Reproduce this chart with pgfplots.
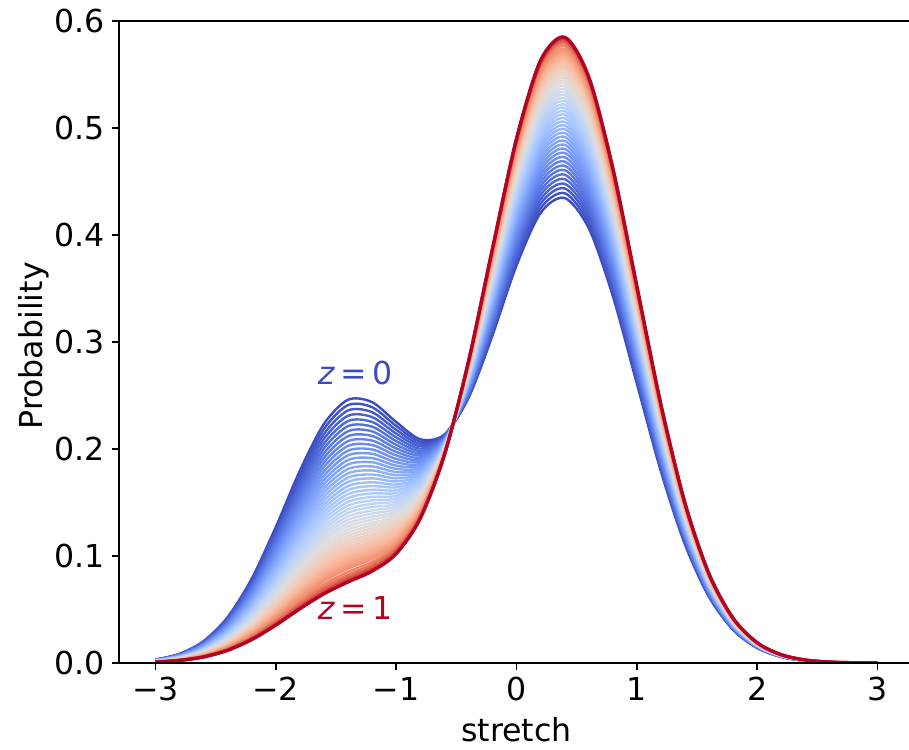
\documentclass[border=0pt]{standalone}
\usepackage{fontspec}
\setmainfont{DejaVu Sans}
\usepackage{pgfplots}
\usepackage{pgfplotstable}
\pgfplotsset{compat=1.18}
\pgfplotsset{colormap={coolwarm}{rgb255=(59,76,192) rgb255=(68,90,204) rgb255=(77,104,215) rgb255=(87,117,225) rgb255=(98,130,234) rgb255=(108,142,241) rgb255=(119,154,247) rgb255=(130,165,251) rgb255=(141,176,254) rgb255=(152,185,255) rgb255=(163,194,255) rgb255=(174,201,253) rgb255=(184,208,249) rgb255=(194,213,244) rgb255=(204,217,238) rgb255=(213,219,230) rgb255=(221,221,221) rgb255=(229,216,209) rgb255=(236,211,197) rgb255=(241,204,185) rgb255=(245,196,173) rgb255=(247,187,160) rgb255=(247,177,148) rgb255=(247,166,135) rgb255=(244,154,123) rgb255=(241,141,111) rgb255=(236,127,99) rgb255=(229,112,88) rgb255=(222,96,77) rgb255=(213,80,66) rgb255=(203,62,56) rgb255=(192,40,47) rgb255=(180,4,38)}}
\definecolor{cwblue}{RGB}{59,76,192}
\definecolor{cwred}{RGB}{180,4,38}

\pgfplotstableread{
x c0 c1 c2 c3 c4 c5 c6 c7 c8 c9 c10 c11 c12 c13 c14 c15 c16 c17 c18 c19 c20 c21 c22 c23 c24 c25 c26 c27 c28 c29 c30
-3.0 0.0031 0.0030 0.0029 0.0027 0.0026 0.0025 0.0024 0.0023 0.0022 0.0020 0.0019 0.0019 0.0018 0.0017 0.0016 0.0015 0.0014 0.0014 0.0013 0.0012 0.0012 0.0011 0.0011 0.0010 0.0010 0.0010 0.0009 0.0009 0.0009 0.0009 0.0009
-2.8 0.0085 0.0082 0.0078 0.0075 0.0071 0.0068 0.0065 0.0062 0.0059 0.0056 0.0053 0.0051 0.0048 0.0046 0.0043 0.0041 0.0039 0.0037 0.0035 0.0034 0.0032 0.0031 0.0029 0.0028 0.0027 0.0026 0.0025 0.0025 0.0024 0.0024 0.0024
-2.6 0.0204 0.0195 0.0187 0.0179 0.0171 0.0163 0.0155 0.0148 0.0141 0.0134 0.0128 0.0121 0.0115 0.0110 0.0104 0.0099 0.0094 0.0089 0.0085 0.0081 0.0077 0.0073 0.0070 0.0067 0.0065 0.0062 0.0060 0.0059 0.0058 0.0057 0.0056
-2.4 0.0428 0.0410 0.0392 0.0375 0.0358 0.0342 0.0326 0.0311 0.0296 0.0281 0.0268 0.0255 0.0242 0.0230 0.0218 0.0207 0.0197 0.0187 0.0178 0.0169 0.0161 0.0154 0.0147 0.0141 0.0136 0.0131 0.0127 0.0123 0.0121 0.0119 0.0118
-2.2 0.0787 0.0754 0.0721 0.0689 0.0658 0.0628 0.0599 0.0571 0.0544 0.0518 0.0493 0.0468 0.0445 0.0423 0.0402 0.0382 0.0363 0.0345 0.0328 0.0312 0.0297 0.0283 0.0271 0.0260 0.0250 0.0241 0.0233 0.0227 0.0223 0.0220 0.0218
-2.0 0.1269 0.1215 0.1162 0.1111 0.1061 0.1013 0.0966 0.0921 0.0877 0.0835 0.0795 0.0756 0.0718 0.0683 0.0649 0.0616 0.0586 0.0557 0.0529 0.0504 0.0480 0.0458 0.0438 0.0420 0.0404 0.0390 0.0378 0.0368 0.0360 0.0355 0.0353
-1.8 0.1795 0.1718 0.1644 0.1572 0.1502 0.1434 0.1368 0.1305 0.1243 0.1184 0.1127 0.1072 0.1020 0.0969 0.0921 0.0876 0.0832 0.0792 0.0753 0.0717 0.0684 0.0653 0.0625 0.0599 0.0577 0.0557 0.0540 0.0526 0.0515 0.0508 0.0506
-1.6 0.2233 0.2139 0.2048 0.1959 0.1873 0.1789 0.1708 0.1630 0.1554 0.1481 0.1411 0.1344 0.1279 0.1217 0.1158 0.1102 0.1049 0.0998 0.0951 0.0907 0.0866 0.0828 0.0793 0.0762 0.0734 0.0709 0.0688 0.0671 0.0658 0.0649 0.0646
-1.4 0.2460 0.2360 0.2261 0.2166 0.2073 0.1984 0.1897 0.1813 0.1732 0.1653 0.1578 0.1505 0.1436 0.1370 0.1306 0.1246 0.1189 0.1135 0.1084 0.1037 0.0993 0.0952 0.0915 0.0881 0.0851 0.0824 0.0802 0.0784 0.0770 0.0760 0.0757
-1.2 0.2438 0.2344 0.2253 0.2165 0.2079 0.1996 0.1915 0.1837 0.1762 0.1689 0.1619 0.1552 0.1488 0.1426 0.1367 0.1311 0.1259 0.1208 0.1161 0.1117 0.1076 0.1039 0.1004 0.0973 0.0945 0.0921 0.0900 0.0883 0.0870 0.0861 0.0858
-1.0 0.2253 0.2180 0.2109 0.2040 0.1973 0.1908 0.1845 0.1785 0.1726 0.1669 0.1615 0.1562 0.1512 0.1464 0.1418 0.1374 0.1333 0.1294 0.1257 0.1223 0.1191 0.1161 0.1134 0.1110 0.1088 0.1069 0.1053 0.1040 0.1030 0.1023 0.1020
-0.8 0.2091 0.2047 0.2004 0.1963 0.1922 0.1883 0.1845 0.1809 0.1774 0.1739 0.1707 0.1675 0.1645 0.1616 0.1589 0.1562 0.1538 0.1514 0.1492 0.1471 0.1452 0.1434 0.1418 0.1404 0.1390 0.1379 0.1369 0.1361 0.1355 0.1351 0.1350
-0.6 0.2134 0.2122 0.2111 0.2100 0.2090 0.2080 0.2070 0.2060 0.2051 0.2042 0.2034 0.2025 0.2017 0.2010 0.2003 0.1996 0.1989 0.1983 0.1977 0.1972 0.1967 0.1962 0.1958 0.1954 0.1951 0.1948 0.1945 0.1943 0.1942 0.1941 0.1940
-0.4 0.2474 0.2494 0.2514 0.2533 0.2551 0.2569 0.2587 0.2603 0.2619 0.2635 0.2650 0.2664 0.2678 0.2691 0.2704 0.2716 0.2727 0.2738 0.2748 0.2758 0.2766 0.2775 0.2782 0.2789 0.2795 0.2800 0.2804 0.2808 0.2811 0.2813 0.2813
-0.2 0.3060 0.3108 0.3155 0.3201 0.3245 0.3287 0.3329 0.3369 0.3407 0.3445 0.3481 0.3515 0.3548 0.3580 0.3610 0.3638 0.3666 0.3691 0.3716 0.3738 0.3759 0.3779 0.3796 0.3812 0.3827 0.3839 0.3850 0.3859 0.3865 0.3870 0.3871
0.0 0.3715 0.3785 0.3853 0.3920 0.3984 0.4046 0.4107 0.4165 0.4222 0.4277 0.4329 0.4379 0.4428 0.4474 0.4518 0.4560 0.4600 0.4637 0.4673 0.4706 0.4736 0.4765 0.4791 0.4814 0.4835 0.4853 0.4869 0.4882 0.4891 0.4898 0.4900
0.2 0.4206 0.4291 0.4373 0.4453 0.4530 0.4605 0.4678 0.4748 0.4816 0.4882 0.4945 0.5006 0.5064 0.5119 0.5172 0.5223 0.5271 0.5316 0.5358 0.5398 0.5435 0.5469 0.5500 0.5528 0.5554 0.5576 0.5594 0.5610 0.5621 0.5629 0.5632
0.4 0.4346 0.4435 0.4522 0.4606 0.4687 0.4767 0.4843 0.4917 0.4989 0.5058 0.5125 0.5188 0.5250 0.5308 0.5364 0.5417 0.5468 0.5515 0.5560 0.5602 0.5641 0.5677 0.5710 0.5739 0.5766 0.5789 0.5809 0.5825 0.5837 0.5846 0.5849
0.6 0.4064 0.4148 0.4229 0.4309 0.4385 0.4460 0.4532 0.4602 0.4669 0.4734 0.4797 0.4857 0.4914 0.4970 0.5022 0.5072 0.5120 0.5164 0.5206 0.5246 0.5282 0.5316 0.5347 0.5375 0.5400 0.5422 0.5441 0.5456 0.5467 0.5475 0.5478
0.8 0.3430 0.3501 0.3570 0.3636 0.3701 0.3764 0.3825 0.3884 0.3941 0.3996 0.4049 0.4100 0.4149 0.4195 0.4240 0.4282 0.4322 0.4360 0.4396 0.4429 0.4460 0.4489 0.4515 0.4538 0.4560 0.4578 0.4594 0.4607 0.4616 0.4623 0.4626
1.0 0.2609 0.2663 0.2716 0.2767 0.2816 0.2864 0.2910 0.2955 0.2999 0.3041 0.3081 0.3120 0.3157 0.3192 0.3226 0.3258 0.3289 0.3318 0.3345 0.3370 0.3394 0.3415 0.3435 0.3453 0.3469 0.3484 0.3495 0.3505 0.3513 0.3518 0.3520
1.2 0.1789 0.1826 0.1862 0.1897 0.1931 0.1964 0.1996 0.2027 0.2056 0.2085 0.2113 0.2139 0.2165 0.2189 0.2212 0.2234 0.2255 0.2275 0.2294 0.2311 0.2327 0.2342 0.2356 0.2368 0.2379 0.2389 0.2397 0.2404 0.2409 0.2412 0.2414
1.4 0.1106 0.1129 0.1151 0.1173 0.1194 0.1214 0.1234 0.1253 0.1271 0.1289 0.1306 0.1322 0.1338 0.1353 0.1367 0.1381 0.1394 0.1406 0.1418 0.1428 0.1438 0.1448 0.1456 0.1464 0.1471 0.1476 0.1482 0.1486 0.1489 0.1491 0.1492
1.6 0.0616 0.0629 0.0641 0.0653 0.0665 0.0676 0.0687 0.0698 0.0708 0.0718 0.0727 0.0736 0.0745 0.0753 0.0761 0.0769 0.0776 0.0783 0.0789 0.0795 0.0801 0.0806 0.0811 0.0815 0.0819 0.0822 0.0825 0.0827 0.0829 0.0830 0.0831
1.8 0.0309 0.0315 0.0322 0.0328 0.0334 0.0339 0.0345 0.0350 0.0355 0.0360 0.0365 0.0370 0.0374 0.0378 0.0382 0.0386 0.0390 0.0393 0.0396 0.0399 0.0402 0.0405 0.0407 0.0409 0.0411 0.0413 0.0414 0.0415 0.0416 0.0417 0.0417
2.0 0.0140 0.0143 0.0146 0.0148 0.0151 0.0153 0.0156 0.0158 0.0161 0.0163 0.0165 0.0167 0.0169 0.0171 0.0173 0.0175 0.0176 0.0178 0.0179 0.0181 0.0182 0.0183 0.0184 0.0185 0.0186 0.0187 0.0187 0.0188 0.0188 0.0189 0.0189
2.2 0.0057 0.0058 0.0059 0.0060 0.0062 0.0063 0.0064 0.0065 0.0066 0.0066 0.0067 0.0068 0.0069 0.0070 0.0070 0.0071 0.0072 0.0072 0.0073 0.0074 0.0074 0.0075 0.0075 0.0075 0.0076 0.0076 0.0076 0.0077 0.0077 0.0077 0.0077
2.4 0.0021 0.0021 0.0022 0.0022 0.0023 0.0023 0.0023 0.0024 0.0024 0.0024 0.0025 0.0025 0.0025 0.0026 0.0026 0.0026 0.0026 0.0027 0.0027 0.0027 0.0027 0.0027 0.0028 0.0028 0.0028 0.0028 0.0028 0.0028 0.0028 0.0028 0.0028
2.6 0.0007 0.0007 0.0007 0.0007 0.0008 0.0008 0.0008 0.0008 0.0008 0.0008 0.0008 0.0008 0.0008 0.0009 0.0009 0.0009 0.0009 0.0009 0.0009 0.0009 0.0009 0.0009 0.0009 0.0009 0.0009 0.0009 0.0009 0.0009 0.0009 0.0009 0.0009
2.8 0.0002 0.0002 0.0002 0.0002 0.0002 0.0002 0.0002 0.0002 0.0002 0.0002 0.0002 0.0003 0.0003 0.0003 0.0003 0.0003 0.0003 0.0003 0.0003 0.0003 0.0003 0.0003 0.0003 0.0003 0.0003 0.0003 0.0003 0.0003 0.0003 0.0003 0.0003
3.0 0.0001 0.0001 0.0001 0.0001 0.0001 0.0001 0.0001 0.0001 0.0001 0.0001 0.0001 0.0001 0.0001 0.0001 0.0001 0.0001 0.0001 0.0001 0.0001 0.0001 0.0001 0.0001 0.0001 0.0001 0.0001 0.0001 0.0001 0.0001 0.0001 0.0001 0.0001
}\curves

\pgfplotstableread{
x m0 m1 m2 m3 m4 m5 m6 m7 m8 m9 m10 m11 m12 m13 m14 m15 m16 m17 m18 m19 m20 m21 m22
-3.0 0.00305 0.00295 0.0028 0.00265 0.00255 0.00245 0.00235 0.00225 0.0021 0.00195 0.0019 0.00185 0.00175 0.00165 0.00155 0.00145 0.0014 0.00135 0.00125 0.0012 0.00115 0.0011 0.00105
-2.8 0.00835 0.0080 0.00765 0.0073 0.00695 0.00665 0.00635 0.00605 0.00575 0.00545 0.0052 0.00495 0.0047 0.00445 0.0042 0.0040 0.0038 0.0036 0.00345 0.0033 0.00315 0.0030 0.00285
-2.6 0.01995 0.0191 0.0183 0.0175 0.0167 0.0159 0.01515 0.01445 0.01375 0.0131 0.01245 0.0118 0.01125 0.0107 0.01015 0.00965 0.00915 0.0087 0.0083 0.0079 0.0075 0.00715 0.00685
-2.4 0.0419 0.0401 0.03835 0.03665 0.0350 0.0334 0.03185 0.03035 0.02885 0.02745 0.02615 0.02485 0.0236 0.0224 0.02125 0.0202 0.0192 0.01825 0.01735 0.0165 0.01575 0.01505 0.0144
-2.2 0.07705 0.07375 0.0705 0.06735 0.0643 0.06135 0.0585 0.05575 0.0531 0.05055 0.04805 0.04565 0.0434 0.04125 0.0392 0.03725 0.0354 0.03365 0.0320 0.03045 0.0290 0.0277 0.02655
-2.0 0.1242 0.11885 0.11365 0.1086 0.1037 0.09895 0.09435 0.0899 0.0856 0.0815 0.07755 0.0737 0.07005 0.0666 0.06325 0.0601 0.05715 0.0543 0.05165 0.0492 0.0469 0.0448 0.0429
-1.8 0.17565 0.1681 0.1608 0.1537 0.1468 0.1401 0.13365 0.1274 0.12135 0.11555 0.10995 0.1046 0.09945 0.0945 0.08985 0.0854 0.0812 0.07725 0.0735 0.07005 0.06685 0.0639 0.0612
-1.6 0.2186 0.20935 0.20035 0.1916 0.1831 0.17485 0.1669 0.1592 0.15175 0.1446 0.13775 0.13115 0.1248 0.11875 0.1130 0.10755 0.10235 0.09745 0.0929 0.08865 0.0847 0.08105 0.07775
-1.4 0.2410 0.23105 0.22135 0.21195 0.20285 0.19405 0.1855 0.17725 0.16925 0.16155 0.15415 0.14705 0.1403 0.1338 0.1276 0.12175 0.1162 0.11095 0.10605 0.1015 0.09725 0.09335 0.0898
-1.2 0.2391 0.22985 0.2209 0.2122 0.20375 0.19555 0.1876 0.17995 0.17255 0.1654 0.15855 0.1520 0.1457 0.13965 0.1339 0.1285 0.12335 0.11845 0.1139 0.10965 0.10575 0.10215 0.09885
-1.0 0.22165 0.21445 0.20745 0.20065 0.19405 0.18765 0.1815 0.17555 0.16975 0.1642 0.15885 0.1537 0.1488 0.1441 0.1396 0.13535 0.13135 0.12755 0.1240 0.1207 0.1176 0.11475 0.1122
-0.8 0.2069 0.20255 0.19835 0.19425 0.19025 0.1864 0.1827 0.17915 0.17565 0.1723 0.1691 0.1660 0.16305 0.16025 0.15755 0.1550 0.1526 0.1503 0.14815 0.14615 0.1443 0.1426 0.1411
-0.6 0.2128 0.21165 0.21055 0.2095 0.2085 0.2075 0.2065 0.20555 0.20465 0.2038 0.20295 0.2021 0.20135 0.20065 0.19995 0.19925 0.1986 0.1980 0.19745 0.19695 0.19645 0.1960 0.1956
-0.4 0.2484 0.2504 0.25235 0.2542 0.2560 0.2578 0.2595 0.2611 0.2627 0.26425 0.2657 0.2671 0.26845 0.26975 0.2710 0.27215 0.27325 0.2743 0.2753 0.2762 0.27705 0.27785 0.27855
-0.2 0.3084 0.31315 0.3178 0.3223 0.3266 0.3308 0.3349 0.3388 0.3426 0.3463 0.3498 0.35315 0.3564 0.3595 0.3624 0.3652 0.36785 0.37035 0.3727 0.37485 0.3769 0.37875 0.3804
0.0 0.3750 0.3819 0.38865 0.3952 0.4015 0.40765 0.4136 0.41935 0.42495 0.4303 0.4354 0.44035 0.4451 0.4496 0.4539 0.4580 0.46185 0.4655 0.46895 0.4721 0.47505 0.4778 0.48025
0.2 0.42485 0.4332 0.4413 0.44915 0.45675 0.46415 0.4713 0.4782 0.4849 0.49135 0.49755 0.5035 0.50915 0.51455 0.51975 0.5247 0.52935 0.5337 0.5378 0.54165 0.5452 0.54845 0.5514
0.4 0.43905 0.44785 0.4564 0.46465 0.4727 0.4805 0.4880 0.4953 0.50235 0.50915 0.51565 0.5219 0.5279 0.5336 0.53905 0.54425 0.54915 0.55375 0.5581 0.56215 0.5659 0.56935 0.57245
0.6 0.4106 0.41885 0.4269 0.4347 0.44225 0.4496 0.4567 0.46355 0.47015 0.47655 0.4827 0.48855 0.4942 0.4996 0.5047 0.5096 0.5142 0.5185 0.5226 0.5264 0.5299 0.53315 0.5361
0.8 0.34655 0.35355 0.3603 0.36685 0.37325 0.37945 0.38545 0.39125 0.39685 0.40225 0.40745 0.41245 0.4172 0.42175 0.4261 0.4302 0.4341 0.4378 0.44125 0.44445 0.44745 0.4502 0.45265
1.0 0.2636 0.26895 0.27415 0.27915 0.2840 0.2887 0.29325 0.2977 0.3020 0.3061 0.31005 0.31385 0.31745 0.3209 0.3242 0.32735 0.33035 0.33315 0.33575 0.3382 0.34045 0.3425 0.3444
1.2 0.18075 0.1844 0.18795 0.1914 0.19475 0.1980 0.20115 0.20415 0.20705 0.2099 0.2126 0.2152 0.2177 0.22005 0.2223 0.22445 0.2265 0.22845 0.23025 0.2319 0.23345 0.2349 0.2362
1.4 0.11175 0.1140 0.1162 0.11835 0.1204 0.1224 0.12435 0.1262 0.1280 0.12975 0.1314 0.1330 0.13455 0.1360 0.1374 0.13875 0.1400 0.1412 0.1423 0.1433 0.1443 0.1452 0.1460
1.6 0.06225 0.0635 0.0647 0.0659 0.06705 0.06815 0.06925 0.0703 0.0713 0.07225 0.07315 0.07405 0.0749 0.0757 0.0765 0.07725 0.07795 0.0786 0.0792 0.0798 0.08035 0.08085 0.0813
1.8 0.0312 0.03185 0.0325 0.0331 0.03365 0.0342 0.03475 0.03525 0.03575 0.03625 0.03675 0.0372 0.0376 0.0380 0.0384 0.0388 0.03915 0.03945 0.03975 0.04005 0.04035 0.0406 0.0408
2.0 0.01415 0.01445 0.0147 0.01495 0.0152 0.01545 0.0157 0.01595 0.0162 0.0164 0.0166 0.0168 0.0170 0.0172 0.0174 0.01755 0.0177 0.01785 0.0180 0.01815 0.01825 0.01835 0.01845
2.2 0.00575 0.00585 0.00595 0.0061 0.00625 0.00635 0.00645 0.00655 0.0066 0.00665 0.00675 0.00685 0.00695 0.0070 0.00705 0.00715 0.0072 0.00725 0.00735 0.0074 0.00745 0.0075 0.0075
2.4 0.0021 0.00215 0.0022 0.00225 0.0023 0.0023 0.00235 0.0024 0.0024 0.00245 0.0025 0.0025 0.00255 0.0026 0.0026 0.0026 0.00265 0.0027 0.0027 0.0027 0.0027 0.00275 0.0028
2.6 0.0007 0.0007 0.0007 0.00075 0.0008 0.0008 0.0008 0.0008 0.0008 0.0008 0.0008 0.0008 0.00085 0.0009 0.0009 0.0009 0.0009 0.0009 0.0009 0.0009 0.0009 0.0009 0.0009
2.8 0.0002 0.0002 0.0002 0.0002 0.0002 0.0002 0.0002 0.0002 0.0002 0.0002 0.00025 0.0003 0.0003 0.0003 0.0003 0.0003 0.0003 0.0003 0.0003 0.0003 0.0003 0.0003 0.0003
3.0 0.0001 0.0001 0.0001 0.0001 0.0001 0.0001 0.0001 0.0001 0.0001 0.0001 0.0001 0.0001 0.0001 0.0001 0.0001 0.0001 0.0001 0.0001 0.0001 0.0001 0.0001 0.0001 0.0001
}\mids

\begin{document}
\begin{tikzpicture}
\useasboundingbox (-59.6pt,-43pt) rectangle (394.9pt,331.5pt);
\begin{axis}[
  name=ax, at={(0,0)}, anchor=south west,
  scale only axis, width=397.3pt, height=321pt,
  xmin=-3.3, xmax=3.3, ymin=0, ymax=0.6,
  axis line style={line width=0.8pt, black},
  xtick pos=left, ytick pos=left,
  tick align=outside, major tick length=3.5pt,
  tick style={line width=0.8pt, black},
  xtick={-3,-2,-1,0,1,2,3}, xticklabels={−3,−2,−1,0,1,2,3},
  ytick={0,0.1,0.2,0.3,0.4,0.5,0.6}, yticklabels={0.0,0.1,0.2,0.3,0.4,0.5,0.6},
  tick label style={font=\fontsize{15.8}{18}\selectfont},
  xticklabel style={inner sep=0pt, yshift=-3.5pt},
  yticklabel style={inner sep=0pt, xshift=-3.5pt},
  label style={font=\fontsize{15.8}{18}\selectfont},
  xlabel={stretch}, ylabel={Probability},
  xlabel style={at={(axis description cs:0.5,-0.123)}, anchor=base},
  ylabel style={at={(axis description cs:-0.0963,0.494)}, anchor=base},
  axis on top,
  every axis plot/.append style={line width=1.2pt, smooth, line join=round},
]
\addplot[color of colormap={0 of coolwarm}] table[x=x,y=c0]{\curves};
\addplot[color of colormap={16.67 of coolwarm}] table[x=x,y=m0]{\mids};
\addplot[color of colormap={33.33 of coolwarm}] table[x=x,y=c1]{\curves};
\addplot[color of colormap={50 of coolwarm}] table[x=x,y=m1]{\mids};
\addplot[color of colormap={66.67 of coolwarm}] table[x=x,y=c2]{\curves};
\addplot[color of colormap={83.33 of coolwarm}] table[x=x,y=m2]{\mids};
\addplot[color of colormap={100 of coolwarm}] table[x=x,y=c3]{\curves};
\addplot[color of colormap={116.67 of coolwarm}] table[x=x,y=m3]{\mids};
\addplot[color of colormap={133.33 of coolwarm}] table[x=x,y=c4]{\curves};
\addplot[color of colormap={150 of coolwarm}] table[x=x,y=m4]{\mids};
\addplot[color of colormap={166.67 of coolwarm}] table[x=x,y=c5]{\curves};
\addplot[color of colormap={183.33 of coolwarm}] table[x=x,y=m5]{\mids};
\addplot[color of colormap={200 of coolwarm}] table[x=x,y=c6]{\curves};
\addplot[color of colormap={216.67 of coolwarm}] table[x=x,y=m6]{\mids};
\addplot[color of colormap={233.33 of coolwarm}] table[x=x,y=c7]{\curves};
\addplot[color of colormap={250 of coolwarm}] table[x=x,y=m7]{\mids};
\addplot[color of colormap={266.67 of coolwarm}] table[x=x,y=c8]{\curves};
\addplot[color of colormap={283.33 of coolwarm}] table[x=x,y=m8]{\mids};
\addplot[color of colormap={300 of coolwarm}] table[x=x,y=c9]{\curves};
\addplot[color of colormap={316.67 of coolwarm}] table[x=x,y=m9]{\mids};
\addplot[color of colormap={333.33 of coolwarm}] table[x=x,y=c10]{\curves};
\addplot[color of colormap={350 of coolwarm}] table[x=x,y=m10]{\mids};
\addplot[color of colormap={366.67 of coolwarm}] table[x=x,y=c11]{\curves};
\addplot[color of colormap={383.33 of coolwarm}] table[x=x,y=m11]{\mids};
\addplot[color of colormap={400 of coolwarm}] table[x=x,y=c12]{\curves};
\addplot[color of colormap={416.67 of coolwarm}] table[x=x,y=m12]{\mids};
\addplot[color of colormap={433.33 of coolwarm}] table[x=x,y=c13]{\curves};
\addplot[color of colormap={450 of coolwarm}] table[x=x,y=m13]{\mids};
\addplot[color of colormap={466.67 of coolwarm}] table[x=x,y=c14]{\curves};
\addplot[color of colormap={483.33 of coolwarm}] table[x=x,y=m14]{\mids};
\addplot[color of colormap={500 of coolwarm}] table[x=x,y=c15]{\curves};
\addplot[color of colormap={516.67 of coolwarm}] table[x=x,y=m15]{\mids};
\addplot[color of colormap={533.33 of coolwarm}] table[x=x,y=c16]{\curves};
\addplot[color of colormap={550 of coolwarm}] table[x=x,y=m16]{\mids};
\addplot[color of colormap={566.67 of coolwarm}] table[x=x,y=c17]{\curves};
\addplot[color of colormap={583.33 of coolwarm}] table[x=x,y=m17]{\mids};
\addplot[color of colormap={600 of coolwarm}] table[x=x,y=c18]{\curves};
\addplot[color of colormap={616.67 of coolwarm}] table[x=x,y=m18]{\mids};
\addplot[color of colormap={633.33 of coolwarm}] table[x=x,y=c19]{\curves};
\addplot[color of colormap={650 of coolwarm}] table[x=x,y=m19]{\mids};
\addplot[color of colormap={666.67 of coolwarm}] table[x=x,y=c20]{\curves};
\addplot[color of colormap={683.33 of coolwarm}] table[x=x,y=m20]{\mids};
\addplot[color of colormap={700 of coolwarm}] table[x=x,y=c21]{\curves};
\addplot[color of colormap={716.67 of coolwarm}] table[x=x,y=m21]{\mids};
\addplot[color of colormap={733.33 of coolwarm}] table[x=x,y=c22]{\curves};
\addplot[color of colormap={750 of coolwarm}] table[x=x,y=m22]{\mids};
\addplot[color of colormap={766.67 of coolwarm}] table[x=x,y=c23]{\curves};
\addplot[color of colormap={800 of coolwarm}] table[x=x,y=c24]{\curves};
\addplot[color of colormap={833.33 of coolwarm}] table[x=x,y=c25]{\curves};
\addplot[color of colormap={866.67 of coolwarm}] table[x=x,y=c26]{\curves};
\addplot[color of colormap={900 of coolwarm}, line width=1.4pt] table[x=x,y=c27]{\curves};
\addplot[color of colormap={933.33 of coolwarm}, line width=1.5pt] table[x=x,y=c28]{\curves};
\addplot[color of colormap={966.67 of coolwarm}, line width=1.6pt] table[x=x,y=c29]{\curves};
\addplot[color of colormap={1000 of coolwarm}, line width=1.6pt] table[x=x,y=c30]{\curves};
\node[text=cwblue, font=\fontsize{15.8}{18}\selectfont] at (axis cs:-1.341,0.271) {\textit{z}\,=\,0};
\node[text=cwred, font=\fontsize{15.8}{18}\selectfont] at (axis cs:-1.341,0.0514) {\textit{z}\,=\,1};
\end{axis}
\end{tikzpicture}
\end{document}
